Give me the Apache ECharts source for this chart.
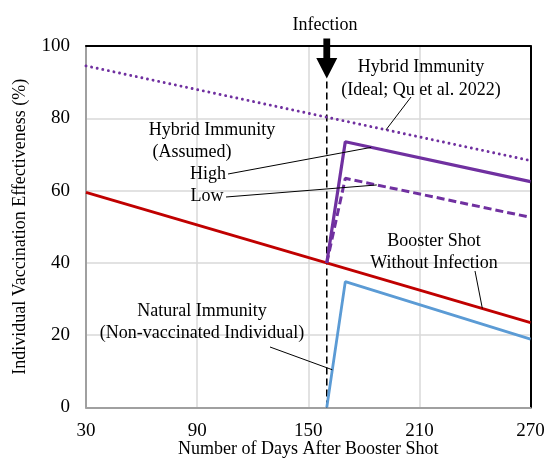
<!DOCTYPE html>
<html>
<head>
<meta charset="utf-8">
<script src="https://cdn.jsdelivr.net/npm/echarts@6/dist/echarts.min.js"></script>
<style>
  html, body { margin: 0; padding: 0; background: #fff; }
  #chart { width: 546px; height: 460px; }
</style>
</head>
<body>
<div id="chart"></div>
<script>
// values
const xTicks = [30, 90, 150, 210, 270]
const infectionDay = 160

const boosterDays = [30, 270]
const boosterVE = [59.5, 23.5]

const idealDays = [30, 270]
const idealVE = [94.5, 68.3]

const hybridDays = [160, 170, 270]
const hybridHigh = [40, 73.5, 62.5]
const hybridLow = [40, 63.4, 52.6]

const naturalDays = [160, 170, 270]
const naturalVE = [0, 34.8, 18.9]

const infectionLineVE = [0, 91]

const pairs = (xs, ys) => xs.map((x, i) => [x, ys[i]])

// value of a polyline at a given day (used to anchor the leader lines)
const valueAt = (xs, ys, d) => {
  for (let i = 0; i < xs.length - 1; i++) {
    if (d >= xs[i] && d <= xs[i + 1]) {
      const t = (d - xs[i]) / (xs[i + 1] - xs[i])
      return ys[i] + t * (ys[i + 1] - ys[i])
    }
  }
  return ys[ys.length - 1]
}

const font = "'Liberation Serif', 'Times New Roman', serif"
const purple = '#7030A0'

const chart = echarts.init(document.getElementById('chart'))

const option = {
  animation: false,
  backgroundColor: '#fff',
  textStyle: { fontFamily: font },
  grid: { left: 86, right: 15.5, top: 46, bottom: 52.5, outerBoundsMode: 'none', containLabel: false },
  xAxis: [
    {
      type: 'value',
      min: 30,
      max: 270,
      name: 'Number of Days After Booster Shot',
      nameLocation: 'middle',
      nameGap: 33,
      nameMoveOverlap: false,
      nameTextStyle: { fontFamily: font, fontSize: 18, color: '#000' },
      axisLine: { lineStyle: { color: '#a0a0a0', width: 2 } },
      axisTick: { show: false, customValues: xTicks },
      axisLabel: { customValues: xTicks, margin: 14, fontFamily: font, fontSize: 19, color: '#000' },
      splitLine: { show: true, lineStyle: { color: '#d9d9d9', width: 1.5 } }
    },
    {
      type: 'value',
      position: 'top',
      min: 30,
      max: 270,
      axisLine: { onZero: false, lineStyle: { color: '#000', width: 2 } },
      axisTick: { show: false },
      axisLabel: { show: false },
      splitLine: { show: false }
    }
  ],
  yAxis: [
    {
      type: 'value',
      min: 0,
      max: 100,
      interval: 20,
      name: 'Individual Vaccination Effectiveness (%)',
      nameLocation: 'middle',
      nameGap: 57,
      nameMoveOverlap: false,
      nameTextStyle: { fontFamily: font, fontSize: 18, color: '#000' },
      axisLine: { show: true, lineStyle: { color: '#a0a0a0', width: 2 } },
      axisTick: { show: false },
      axisLabel: { margin: 16, fontFamily: font, fontSize: 19, color: '#000' },
      splitLine: { show: true, lineStyle: { color: '#d9d9d9', width: 1.5 } }
    },
    {
      type: 'value',
      position: 'right',
      min: 0,
      max: 100,
      axisLine: { show: true, onZero: false, lineStyle: { color: '#000', width: 2 } },
      axisTick: { show: false },
      axisLabel: { show: false },
      splitLine: { show: false }
    }
  ],
  series: [
    {
      name: 'Infection',
      type: 'line',
      data: pairs([infectionDay, infectionDay], infectionLineVE),
      symbol: 'none',
      lineStyle: { color: '#000', width: 1.6, type: [7, 4] },
      z: 1
    },
    {
      name: 'Booster Shot Without Infection',
      type: 'line',
      data: pairs(boosterDays, boosterVE),
      symbol: 'none',
      lineStyle: { color: '#C00000', width: 2.8 },
      z: 3
    },
    {
      name: 'Hybrid Immunity (Ideal)',
      type: 'line',
      data: pairs(idealDays, idealVE),
      symbol: 'none',
      lineStyle: { color: purple, width: 2.9, type: [0.01, 5.7], cap: 'round' },
      z: 3
    },
    {
      name: 'Hybrid Immunity Low',
      type: 'line',
      data: pairs(hybridDays, hybridLow),
      symbol: 'none',
      lineStyle: { color: purple, width: 3, type: [8, 4] },
      z: 4
    },
    {
      name: 'Hybrid Immunity High',
      type: 'line',
      data: pairs(hybridDays, hybridHigh),
      symbol: 'none',
      lineStyle: { color: purple, width: 3.2 },
      z: 5
    },
    {
      name: 'Natural Immunity',
      type: 'line',
      data: pairs(naturalDays, naturalVE),
      symbol: 'none',
      lineStyle: { color: '#5B9BD5', width: 2.8 },
      z: 3
    }
  ]
}

chart.setOption(option)

// annotations
const toPx = p => chart.convertToPixel({ xAxisIndex: 0, yAxisIndex: 0 }, p)

const labels = [
  ['Infection', 325, 25],
  ['Hybrid Immunity', 421, 67],
  ['(Ideal; Qu et al. 2022)', 421, 90],
  ['Hybrid Immunity', 212, 130],
  ['(Assumed)', 192, 152],
  ['High', 208, 174],
  ['Low', 207, 196],
  ['Booster Shot', 434, 241],
  ['Without Infection', 434, 263],
  ['Natural Immunity', 202, 311],
  ['(Non-vaccinated Individual)', 202, 333]
]

// leader lines: start in pixels, end on a curve at a given day
const leaders = [
  [411, 97, idealDays, idealVE, 192],
  [228, 174, hybridDays, hybridHigh, 184],
  [226, 197, hybridDays, hybridLow, 187],
  [475, 271, boosterDays, boosterVE, 244],
  [270, 347, naturalDays, naturalVE, 163]
]

const graphics = []
labels.forEach(([t, x, y]) => {
  graphics.push({
    type: 'text',
    x: x,
    y: y,
    style: { text: t, font: '18px ' + font, fill: '#000', align: 'center', verticalAlign: 'middle' },
    z: 20
  })
})
leaders.forEach(([sx, sy, xs, ys, d]) => {
  const end = toPx([d, valueAt(xs, ys, d)])
  graphics.push({
    type: 'line',
    shape: { x1: sx, y1: sy, x2: end[0], y2: end[1] },
    style: { stroke: '#000', lineWidth: 1 },
    z: 20
  })
})

// infection arrow above the dashed line
const tip = toPx([infectionDay, infectionLineVE[1]])
graphics.push({
  type: 'polygon',
  shape: {
    points: [
      [tip[0] - 3.4, tip[1] - 40],
      [tip[0] + 3.4, tip[1] - 40],
      [tip[0] + 3.4, tip[1] - 20.5],
      [tip[0] + 10.5, tip[1] - 20.5],
      [tip[0], tip[1]],
      [tip[0] - 10.5, tip[1] - 20.5],
      [tip[0] - 3.4, tip[1] - 20.5]
    ]
  },
  style: { fill: '#000' },
  z: 20
})

chart.setOption({ graphic: graphics })
</script>
</body>
</html>
